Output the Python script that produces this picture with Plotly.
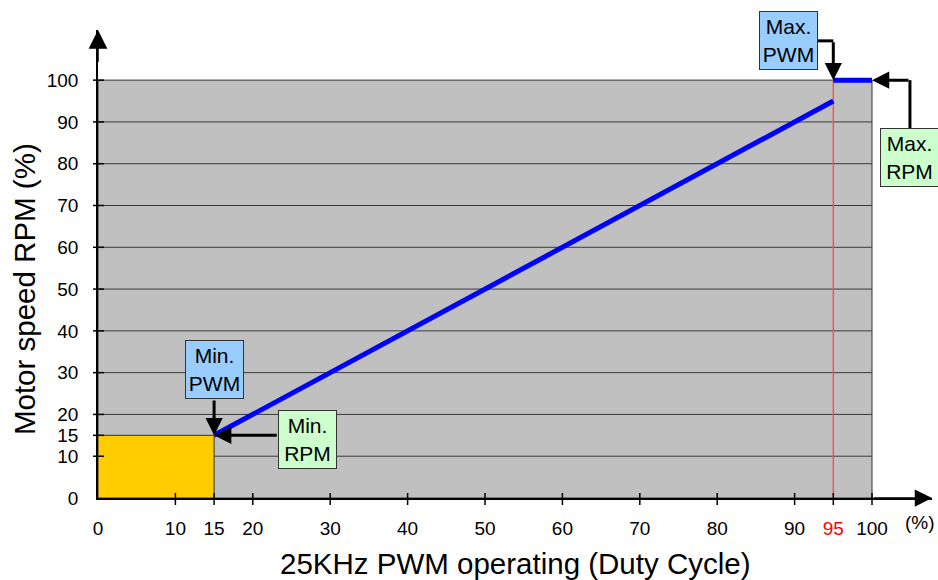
import plotly.graph_objects as go

# ---- data ----
duty_x = [15, 95, None, 95, 100]          # PWM duty cycle (%)
rpm_y = [15, 95, None, 100, 100]          # motor speed (%)
min_pwm = 15
min_rpm = 15
max_pwm = 95
full = 100
x_ticks = [0, 10, 15, 20, 30, 40, 50, 60, 70, 80, 90, 95, 100]
x_labels = ["0", "10", "15", "20", "30", "40", "50", "60", "70", "80", "90",
            "<span style='color:#ff0000'>95</span>", "100"]
y_ticks = [0, 10, 15, 20, 30, 40, 50, 60, 70, 80, 90, 100]
grid_y = [10, 20, 30, 40, 50, 60, 70, 80, 90]
callouts = [
    {"text": "Max.<br>PWM", "color": "#99CCFF"},
    {"text": "Max.<br>RPM", "color": "#CCFFCC"},
    {"text": "Min.<br>PWM", "color": "#99CCFF"},
    {"text": "Min.<br>RPM", "color": "#CCFFCC"},
]

FONT = "Arial, Liberation Sans, sans-serif"
XMAX = 107.75
YMAX = 112

fig = go.Figure()
fig.add_trace(go.Scatter(x=duty_x, y=rpm_y, mode="lines",
                         line=dict(color="#0000FF", width=5),
                         hoverinfo="skip", showlegend=False))

shapes = []
# gray region
shapes.append(dict(type="rect", xref="x", yref="y", x0=0, x1=full, y0=0, y1=full,
                   fillcolor="#C0C0C0", line=dict(color="#333333", width=1), layer="below"))
# grid lines
for gy in grid_y:
    shapes.append(dict(type="line", xref="x", yref="y", x0=0, x1=full, y0=gy, y1=gy,
                       line=dict(color="#3a3a3a", width=1), layer="below"))
# yellow region
shapes.append(dict(type="rect", xref="x", yref="y", x0=0, x1=min_pwm, y0=0, y1=min_rpm,
                   fillcolor="#FFCC00", line=dict(color="#333333", width=1), layer="below"))
# red line at max pwm
shapes.append(dict(type="line", xref="x", yref="y", x0=max_pwm, x1=max_pwm, y0=0, y1=full,
                   line=dict(color="#FF4D4D", width=1.4), layer="below"))
# crossing ticks
for ty in y_ticks[1:]:
    shapes.append(dict(type="line", xref="paper", yref="y", xsizemode="pixel", xanchor=0,
                       x0=-5, x1=6, y0=ty, y1=ty, line=dict(color="black", width=1.5)))
for tx in x_ticks[1:]:
    shapes.append(dict(type="line", xref="x", yref="paper", ysizemode="pixel", yanchor=0,
                       x0=tx, x1=tx, y0=-7, y1=5, line=dict(color="black", width=1.5)))

ann = []
# axis arrows
ann.append(dict(x=0, y=YMAX, ax=0, ay=104, xref="x", yref="y", axref="x", ayref="y",
                showarrow=True, arrowhead=2, arrowsize=2.5, arrowwidth=1.5,
                arrowcolor="black", text=""))
ann.append(dict(x=XMAX, y=0, ax=100, ay=0, xref="x", yref="y", axref="x", ayref="y",
                showarrow=True, arrowhead=2, arrowsize=2.3, arrowwidth=1.5,
                arrowcolor="black", text=""))

# callout boxes (centers in data units)
box_pos = [(89.2, 109.4), (104.9, 81.4), (15.1, 30.75), (27.1, 13.9)]
BW, BH = 57, 57
for c, (cx, cy) in zip(callouts, box_pos):
    ann.append(dict(x=cx, y=cy, xref="x", yref="y", text=c["text"], showarrow=False,
                    font=dict(family=FONT, size=21, color="black"),
                    bgcolor=c["color"], bordercolor="#333333", borderwidth=1, borderpad=0,
                    width=BW, height=BH, align="center", valign="middle"))

px_x = 834 / XMAX
px_y = 468 / YMAX
half_w = (BW / 2 + 1) / px_x
half_h = (BH / 2 + 1) / px_y
AS = 1.15

# Max PWM: right of box -> corner -> down to (95,100)
mp_cx, mp_cy = box_pos[0]
shapes.append(dict(type="line", xref="x", yref="y", x0=mp_cx + half_w, x1=max_pwm,
                   y0=mp_cy, y1=mp_cy, line=dict(color="black", width=3)))
ann.append(dict(x=max_pwm, y=full, ax=max_pwm, ay=mp_cy, xref="x", yref="y", axref="x",
                ayref="y", showarrow=True, arrowhead=2, arrowsize=AS, arrowwidth=3,
                arrowcolor="black", text=""))
# Max RPM: top of box -> corner -> left to (100,100)
mr_cx, mr_cy = box_pos[1]
shapes.append(dict(type="line", xref="x", yref="y", x0=mr_cx, x1=mr_cx,
                   y0=mr_cy + half_h, y1=full, line=dict(color="black", width=3)))
ann.append(dict(x=full, y=full, ax=mr_cx, ay=full, xref="x", yref="y", axref="x",
                ayref="y", showarrow=True, arrowhead=2, arrowsize=AS, arrowwidth=3,
                arrowcolor="black", text=""))
# Min PWM: bottom of box -> down to (15,15)
np_cx, np_cy = box_pos[2]
ann.append(dict(x=min_pwm, y=min_rpm, ax=min_pwm, ay=np_cy - half_h, xref="x", yref="y",
                axref="x", ayref="y", showarrow=True, arrowhead=2, arrowsize=AS,
                arrowwidth=3, arrowcolor="black", text=""))
# Min RPM: left of box -> left to (15,15)
nr_cx, nr_cy = box_pos[3]
ann.append(dict(x=min_pwm, y=min_rpm, ax=nr_cx - half_w, ay=min_rpm, xref="x", yref="y",
                axref="x", ayref="y", showarrow=True, arrowhead=2, arrowsize=AS,
                arrowwidth=3, arrowcolor="black", text=""))

# (%) unit label
ann.append(dict(x=106.2, y=0, xref="x", yref="paper", yanchor="top", yshift=-12,
                text="(%)", showarrow=False, font=dict(family=FONT, size=19, color="black")))
# axis titles
ann.append(dict(x=0.5, y=0, xref="paper", yref="paper", yanchor="middle", yshift=-65,
                text="25KHz PWM operating (Duty Cycle)", showarrow=False,
                font=dict(family=FONT, size=29.5, color="black")))
ann.append(dict(x=0, y=50, xref="paper", yref="y", xanchor="center", xshift=-74,
                text="Motor speed RPM (%)", showarrow=False, textangle=-90,
                font=dict(family=FONT, size=29.5, color="black")))

fig.update_layout(
    width=938, height=580,
    margin=dict(l=98, r=6, t=30, b=82),
    paper_bgcolor="white", plot_bgcolor="white",
    font=dict(family=FONT, size=19, color="black"),
    shapes=shapes, annotations=ann,
    xaxis=dict(range=[0, XMAX], showgrid=False, zeroline=False, showline=True,
               linecolor="black", linewidth=1.5, tickmode="array", tickvals=x_ticks,
               ticktext=x_labels, ticks="outside", ticklen=12, tickcolor="rgba(0,0,0,0)",
               tickfont=dict(family=FONT, size=19, color="black"), fixedrange=True),
    yaxis=dict(range=[0, YMAX], showgrid=False, zeroline=False, showline=True,
               linecolor="black", linewidth=1.5, tickmode="array", tickvals=y_ticks,
               ticks="outside", ticklen=14, tickcolor="rgba(0,0,0,0)",
               tickfont=dict(family=FONT, size=19, color="black"), fixedrange=True),
)

fig.write_html("out.html", config={"displayModeBar": False},
               post_script="document.body.style.margin='0';document.body.style.overflow='hidden';")
